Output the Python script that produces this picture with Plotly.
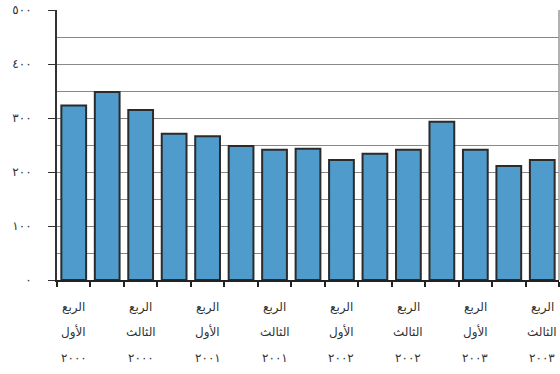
import plotly.graph_objects as go

quarters = ["Q1-2000", "Q2-2000", "Q3-2000", "Q4-2000",
            "Q1-2001", "Q2-2001", "Q3-2001", "Q4-2001",
            "Q1-2002", "Q2-2002", "Q3-2002", "Q4-2002",
            "Q1-2003", "Q2-2003", "Q3-2003"]
values = [323, 348, 315, 271, 266, 248, 241, 243, 222, 234, 241, 293, 241, 211, 222]

label_quarters = ["Q1-2000", "Q3-2000", "Q1-2001", "Q3-2001",
                  "Q1-2002", "Q3-2002", "Q1-2003", "Q3-2003"]
label_line1 = ["الربع"] * 8
label_line2 = ["الأول", "الثالث", "الأول", "الثالث", "الأول", "الثالث", "الأول", "الثالث"]
label_line3 = ["٢٠٠٠", "٢٠٠٠", "٢٠٠١", "٢٠٠١", "٢٠٠٢", "٢٠٠٢", "٢٠٠٣", "٢٠٠٣"]

y_tickvals = [0, 100, 200, 300, 400, 500]
y_ticktext = ["٠", "١٠٠", "٢٠٠", "٣٠٠", "٤٠٠", "٥٠٠"]

fig = go.Figure()
fig.add_trace(go.Bar(
    x=quarters, y=values,
    marker=dict(color="#4F9BCB", line=dict(color="#2b2b2b", width=2)),
    width=0.74,
))

font_fam = "DejaVu Sans, Liberation Sans, Arial, sans-serif"
annotations = []
line_ys = [-0.1, -0.193, -0.29]
for q, a, b, c in zip(label_quarters, label_line1, label_line2, label_line3):
    for txt, yy in zip((a, b, c), line_ys):
        annotations.append(dict(
            x=q, xref="x", y=yy, yref="paper", text=txt, showarrow=False,
            xanchor="center", yanchor="middle",
            font=dict(family=font_fam, size=12, color="#333333"),
        ))

fig.update_layout(
    width=560, height=374,
    margin=dict(l=57, r=1, t=10, b=94),
    paper_bgcolor="white", plot_bgcolor="white",
    showlegend=False,
    annotations=annotations,
    bargap=0.26,
    shapes=[dict(type="line", xref="paper", yref="paper", x0=1, x1=1, y0=0, y1=1,
                 line=dict(color="#999999", width=1.5))],
)
fig.update_xaxes(
    type="category", tickson="boundaries", showticklabels=False,
    ticks="outside", ticklen=5, tickcolor="#222222", tickwidth=1.5,
    showline=True, linecolor="#222222", linewidth=2,
    showgrid=False, range=[-0.5, 14.5],
)
fig.update_yaxes(
    range=[0, 500], tickvals=y_tickvals, ticktext=y_ticktext,
    ticks="outside", ticklen=7, tickcolor="#333333", tickwidth=1,
    ticklabelstandoff=14,
    tickfont=dict(family=font_fam, size=12, color="#333333"),
    showline=True, linecolor="#333333", linewidth=2,
    showgrid=True, gridcolor="#888888", gridwidth=1,
    minor=dict(dtick=50, showgrid=True, gridcolor="#888888", gridwidth=1, ticks=""),
    zeroline=False,
)

fig.write_html("out.html")
